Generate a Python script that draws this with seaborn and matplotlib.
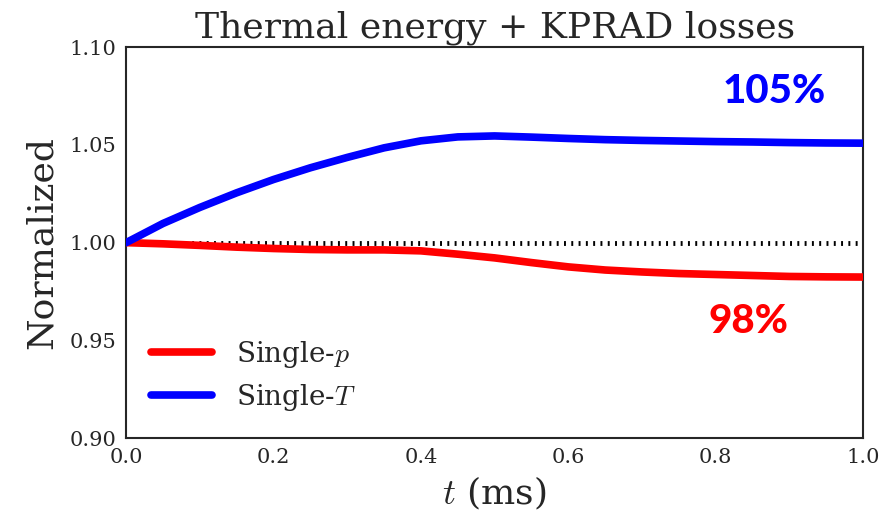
import matplotlib
matplotlib.use("Agg")
import matplotlib.pyplot as plt
import seaborn as sns
import pandas as pd

t_ms = [0.0, 0.05, 0.1, 0.15, 0.2, 0.25, 0.3, 0.35, 0.4, 0.45, 0.5,
        0.55, 0.6, 0.65, 0.7, 0.75, 0.8, 0.85, 0.9, 0.95, 1.0]
single_p = [1.0, 0.9994, 0.9986, 0.9977, 0.9970, 0.9965, 0.9963, 0.9963, 0.9958, 0.9941, 0.9922,
            0.9898, 0.9876, 0.9860, 0.9850, 0.9842, 0.9837, 0.9832, 0.9827, 0.9825, 0.9824]
single_T = [1.0, 1.0098, 1.0180, 1.0255, 1.0323, 1.0383, 1.0436, 1.0485, 1.0521, 1.0541, 1.0546,
            1.0540, 1.0533, 1.0527, 1.0523, 1.0520, 1.0517, 1.0515, 1.0512, 1.0510, 1.0509]
labels = ["Single-$p$", "Single-$T$"]
colors = ["#ff0000", "#0000ff"]
annotations = ["98%", "105%"]
xticks = [0.0, 0.2, 0.4, 0.6, 0.8, 1.0]
yticks = [0.90, 0.95, 1.00, 1.05, 1.10]

sns.set_theme(style="white")
plt.rcParams["font.family"] = ["DejaVu Serif"]
plt.rcParams["mathtext.fontset"] = "cm"

df = pd.DataFrame({"t": t_ms * 2, "val": single_p + single_T,
                   "series": [labels[0]] * len(t_ms) + [labels[1]] * len(t_ms)})

fig, ax = plt.subplots(figsize=(8.88, 5.13), dpi=100)
fig.subplots_adjust(left=0.142, right=0.972, top=0.908, bottom=0.146)
ax.axhline(1.0, color="black", linestyle=(0, (0.4, 1.1)), lw=3.5, zorder=1)
sns.lineplot(data=df, x="t", y="val", hue="series", palette=colors, lw=5.5, ax=ax, zorder=3)
for ln in ax.lines:
    ln.set_solid_joinstyle("round")

ax.set_xlim(0, 1.0)
ax.set_ylim(0.90, 1.10)
ax.set_xticks(xticks)
ax.set_yticks(yticks)
ax.xaxis.set_major_formatter(matplotlib.ticker.FormatStrFormatter("%.1f"))
ax.yaxis.set_major_formatter(matplotlib.ticker.FormatStrFormatter("%.2f"))
ax.tick_params(labelsize=15, colors="#262626", length=0, pad=7)
for s in ax.spines.values():
    s.set_color("#262626")
    s.set_linewidth(1.5)

ax.set_title("Thermal energy + KPRAD losses", fontsize=26, color="#262626", pad=7)
ax.set_xlabel("$t$ (ms)", fontsize=26, color="#262626", labelpad=6)
ax.set_ylabel("Normalized", fontsize=26, color="#262626", labelpad=8)

leg = ax.legend(loc="lower left", frameon=False, fontsize=20, handlelength=2.2,
                handletextpad=0.85, labelspacing=0.45)
for h in leg.get_lines():
    h.set_linewidth(5.5)

ax.text(0.844, 0.9598, annotations[0], color=colors[0], fontsize=29, fontweight="black",
        family="Lato", ha="center", va="center")
ax.text(0.879, 1.0775, annotations[1], color=colors[1], fontsize=29, fontweight="black",
        family="Lato", ha="center", va="center")

fig.savefig("out.png", dpi=100)
